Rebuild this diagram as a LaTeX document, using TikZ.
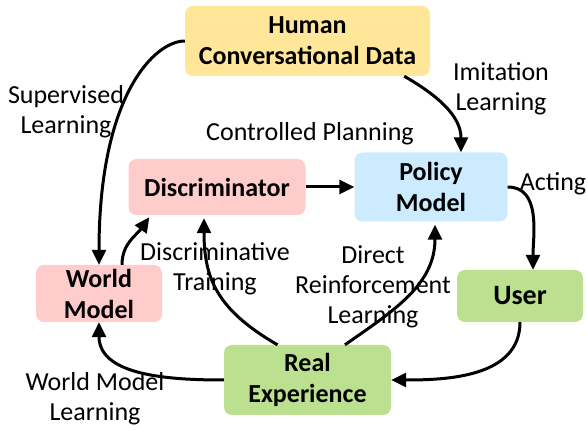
\documentclass[tikz,border=0pt]{standalone}
\usepackage{fontspec}
\setmainfont{Carlito}
\usetikzlibrary{arrows.meta}
\definecolor{datafill}{HTML}{FFE699}
\definecolor{pinkfill}{HTML}{FFCCCC}
\definecolor{bluefill}{HTML}{CCEBFF}
\definecolor{greenfill}{HTML}{BBE08F}
\begin{document}
\begin{tikzpicture}[x=1pt,y=1pt,
	box/.style={rounded corners=8pt,align=center,inner sep=0pt,font=\bfseries\fontsize{26}{31}\selectfont},
	lbl/.style={align=center,inner sep=0pt,font=\fontsize{26}{30}\selectfont},
	flow/.style={-{Triangle[length=15pt,width=14pt]},line width=3pt}]
	\useasboundingbox (0,0) rectangle (587,-430);
	% boxes
	\node[box,fill=datafill,minimum width=245pt,minimum height=70pt] (human) at (307.5,-41) {Human\\Conversational Data};
	\node[box,fill=pinkfill,minimum width=177pt,minimum height=56pt] (disc) at (217,-187) {Discriminator};
	\node[box,fill=bluefill,minimum width=153pt,minimum height=69pt] (policy) at (431,-187) {Policy\\Model};
	\node[box,fill=pinkfill,minimum width=126pt,minimum height=57pt] (world) at (99,-293.5) {World\\Model};
	\node[box,fill=greenfill,minimum width=126pt,minimum height=52pt,font=\bfseries\fontsize{28}{31}\selectfont] (user) at (520,-296) {User};
	\node[box,fill=greenfill,minimum width=167pt,minimum height=70pt] (real) at (307.5,-380) {Real\\Experience};
	% labels
	\node[lbl] (suplbl) at (66,-112) {Supervised\\Learning};
	\node[lbl] (imitlbl) at (501,-89) {Imitation\\Learning};
	\node[lbl] (ctrllbl) at (310,-134) {Controlled Planning};
	\node[lbl] (actlbl) at (553,-184) {Acting};
	\node[lbl] (disclbl) at (215,-269) {Discriminative\\Training};
	\node[lbl] (directlbl) at (373,-287) {Direct\\Reinforcement\\Learning};
	\node[lbl] (wmlbl) at (95,-399) {World Model\\Learning};
	% connectors
	\draw[flow] (human.west) to[out=180,in=90,out distance=30pt,in distance=170pt] (world.north);
	\draw[flow] (human.-20) to[out=-30,in=90] ([xshift=30pt]policy.north);
	\draw[flow] (disc.east) -- (policy.west);
	\draw[flow] (policy.east) to[out=0,in=90] ([xshift=13pt]user.north);
	\draw[flow] (user.south) to[out=-90,in=0] (real.east);
	\draw[flow] (real.west) to[out=180,in=-90] (world.south);
	\draw[flow] ([xshift=-30pt]real.north) to[out=150,in=-90,out distance=70pt,in distance=60pt] ([xshift=-13pt,yshift=-3pt]disc.south);
	\draw[flow] ([xshift=37.5pt]real.north) to[out=35,in=-90,out distance=60pt,in distance=60pt] ([xshift=4pt,yshift=-3pt]policy.south);
	\draw[flow] ([xshift=23pt]world.north) to[out=90,in=-125] ([xshift=21pt,yshift=-2pt]disc.south west);
\end{tikzpicture}
\end{document}
